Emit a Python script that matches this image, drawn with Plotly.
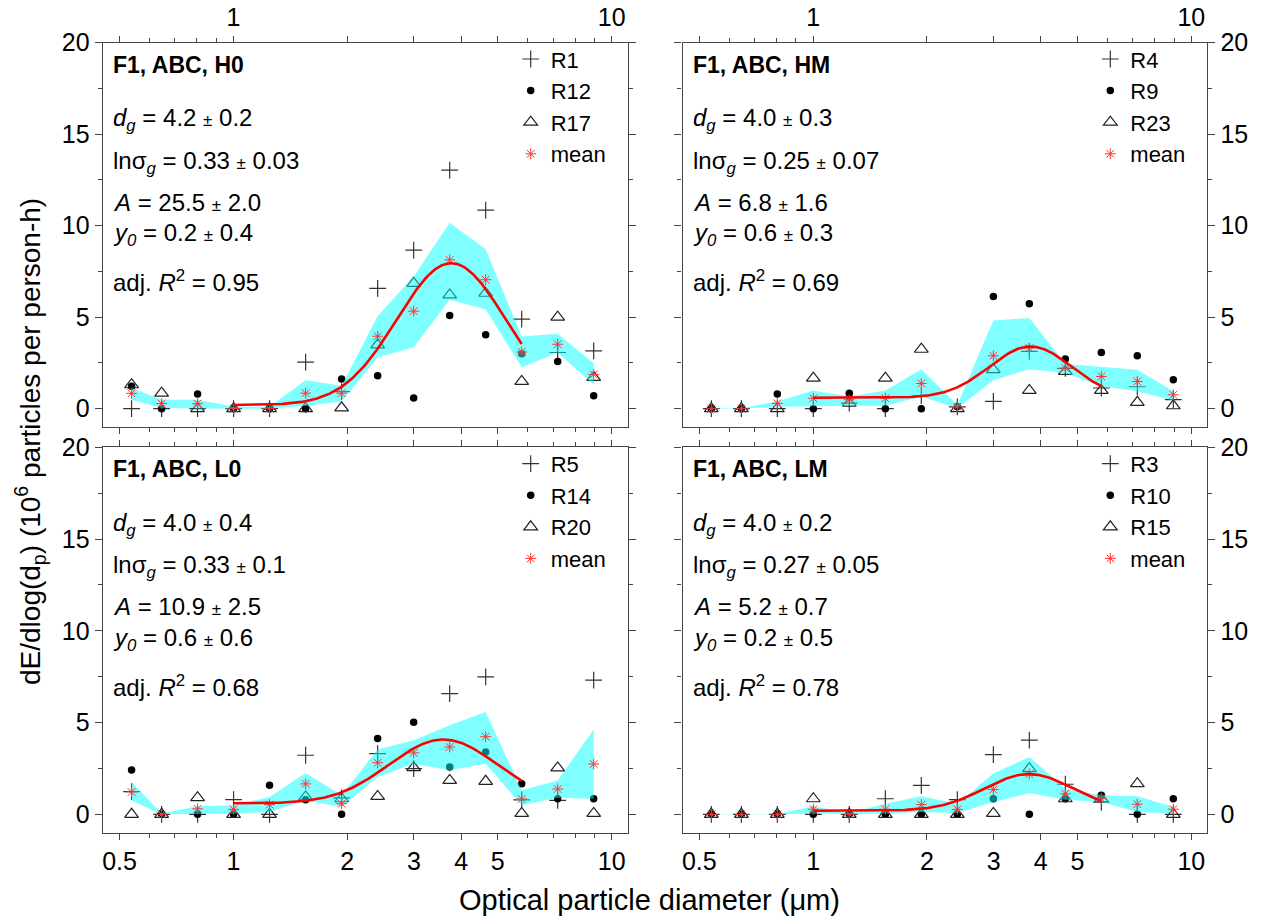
import numpy as np
import plotly.graph_objects as go

# OPC channel geometric midpoints (um)
diam = [0.538, 0.646, 0.804, 1.001, 1.246, 1.552, 1.932, 2.406, 2.996, 3.730, 4.644, 5.782, 7.198, 8.962]

# ---- H0 ----
h0_r1 = [0, 0, 0, 0, 0, 2.55, 0.93, 6.58, 8.67, 13.04, 10.85, 4.89, 3.07, 3.16]
h0_r12 = [1.22, 0, 0.8, 0, 0, 0, 1.62, 1.8, 0.58, 5.09, 4.04, 3.0, 2.58, 0.71]
h0_r17 = [1.31, 0.85, 0, 0, 0, 0, 0.05, 3.49, 6.85, 6.22, 6.31, 1.49, 5.0, 1.71]
h0_mean = [0.84, 0.28, 0.27, 0, 0, 0.85, 0.85, 3.96, 5.33, 8.13, 7.05, 3.1, 3.52, 1.87]
h0_hi = [1.13, 0.49, 0.49, 0.1, 0.1, 1.55, 1.25, 5.07, 7.22, 10.16, 8.71, 3.95, 4.09, 2.49]
h0_lo = [0.49, 0.04, 0.04, 0, 0, 0.16, 0.4, 2.8, 3.36, 5.95, 5.44, 2.25, 3.07, 1.31]

# ---- HM ----
hm_r4 = [0, 0, 0, 0, 0.3, 0, 0.7, 0.1, 0.4, 3.13, 2.2, 1.13, 1.2, 0.5]
hm_r9 = [0, 0, 0.8, 0, 0.85, 0, 0, 0.1, 6.13, 5.73, 2.71, 3.07, 2.89, 1.58]
hm_r23 = [0, 0, 0, 1.67, 0.3, 1.67, 3.25, 0, 2.13, 1.0, 2.04, 1.0, 0.35, 0.16]
hm_mean = [0, 0, 0.29, 0.57, 0.49, 0.57, 1.38, 0.1, 2.89, 3.31, 2.22, 1.76, 1.49, 0.76]
hm_hi = [0.03, 0.03, 0.4, 1.0, 0.67, 1.0, 2.16, 0.22, 4.82, 4.95, 2.44, 2.27, 2.13, 0.95]
hm_lo = [0, 0, 0.1, 0.13, 0.16, 0.16, 0.67, 0.02, 1.55, 2.16, 1.95, 1.22, 0.95, 0.45]

# ---- L0 ----
l0_r5 = [1.24, 0, 0, 0.8, 0, 3.22, 0.9, 3.31, 2.49, 6.58, 7.49, 0.79, 0.76, 7.31]
l0_r14 = [2.42, 0, 0, 0, 1.58, 0.8, 0, 4.13, 5.02, 2.58, 3.4, 1.67, 0.85, 0.85]
l0_r20 = [0, 0, 0.91, 0, 0, 0.95, 0.85, 0.98, 2.55, 1.85, 1.8, 0.05, 2.53, 0.05]
l0_mean = [1.22, 0, 0.3, 0.27, 0.53, 1.66, 0.58, 2.81, 3.35, 3.67, 4.23, 0.84, 1.38, 2.74]
l0_hi = [1.76, 0.04, 0.44, 0.49, 0.95, 2.25, 1.04, 3.53, 4.04, 4.85, 5.58, 1.31, 1.85, 4.62]
l0_lo = [0.76, 0, 0.04, 0.04, 0.13, 0.76, 0.4, 2.04, 2.76, 2.4, 2.76, 0.49, 0.91, 0.85]

# ---- LM ----
lm_r3 = [0, 0, 0, 0, 0, 0.85, 1.58, 0.8, 3.25, 4.04, 1.64, 0.66, 0, 0]
lm_r10 = [0, 0, 0, 0, 0, 0, 0, 0, 0.85, 0, 0.85, 1.04, 0, 0.85]
lm_r15 = [0, 0, 0, 0.85, 0, 0, 0, 0, 0.05, 2.49, 0.85, 0.85, 1.67, 0]
lm_mean = [0, 0, 0, 0.28, 0, 0.28, 0.53, 0.27, 1.35, 2.2, 1.12, 0.85, 0.55, 0.28]
lm_hi = [0.02, 0.02, 0.02, 0.44, 0.07, 0.58, 0.98, 0.58, 2.22, 3.13, 1.4, 1.04, 0.98, 0.4]
lm_lo = [0, 0, 0, 0.04, 0, 0.04, 0.13, 0.07, 0.67, 1.16, 0.8, 0.67, 0.13, 0.04]

panel_titles = ["F1, ABC, H0", "F1, ABC, HM", "F1, ABC, L0", "F1, ABC, LM"]
run_names = [["R1", "R12", "R17"], ["R4", "R9", "R23"], ["R5", "R14", "R20"], ["R3", "R10", "R15"]]

# log-normal fit parameters (value, uncertainty) as printed
dg = ["4.2", "4.0", "4.0", "4.0"]
dg_err = ["0.2", "0.3", "0.4", "0.2"]
lnsg = ["0.33", "0.25", "0.33", "0.27"]
lnsg_err = ["0.03", "0.07", "0.1", "0.05"]
amp = ["25.5", "6.8", "10.9", "5.2"]
amp_err = ["2.0", "1.6", "2.5", "0.7"]
y0 = ["0.2", "0.6", "0.6", "0.2"]
y0_err = ["0.4", "0.3", "0.6", "0.5"]
adj_r2 = ["0.95", "0.69", "0.68", "0.78"]

x_tickvals = [0.5, 1, 2, 3, 4, 5, 10]
x_ticktext_bottom = ["0.5", "1", "2", "3", "4", "5", "10"]
x_ticktext_top = ["", "1", "", "", "", "", "10"]
x_minor = [0.6, 0.7, 0.8, 0.9, 6, 7, 8, 9]
y_tickvals = [0, 5, 10, 15, 20]
y_minor = [2.5, 7.5, 12.5, 17.5]

series = [
    (h0_r1, h0_r12, h0_r17, h0_mean, h0_hi, h0_lo),
    (hm_r4, hm_r9, hm_r23, hm_mean, hm_hi, hm_lo),
    (l0_r5, l0_r14, l0_r20, l0_mean, l0_hi, l0_lo),
    (lm_r3, lm_r10, lm_r15, lm_mean, lm_hi, lm_lo),
]

W, H = 1261, 923
FONT = "Liberation Sans, Arial, sans-serif"
AX = "#444444"

# panel frames in pixels: (left, right, top, bottom)
frames = [
    (102.7, 627.7, 42.7, 427.0),
    (682.5, 1207.3, 42.7, 427.0),
    (102.7, 627.7, 447.3, 832.7),
    (682.5, 1207.3, 447.3, 832.7),
]


def lognormal(x, xc, w, a, base):
    return base + a / (np.sqrt(2 * np.pi) * w * x) * np.exp(-np.log(x / xc) ** 2 / (2 * w ** 2))


fig = go.Figure()
pm = "<span style='font-size:17px'>\u00b1</span>"

for k in range(4):
    n = k + 1
    xa = "x" if n == 1 else f"x{n}"
    ya = "y" if n == 1 else f"y{n}"
    lg = "legend" if n == 1 else f"legend{n}"
    r_a, r_b, r_c, mean, hi, lo = series[k]
    names = run_names[k]

    fig.add_trace(go.Scatter(
        x=diam, y=r_a, mode="markers", name=names[0], xaxis=xa, yaxis=ya, legend=lg,
        marker=dict(symbol="cross-thin-open", size=12, color="#333333",
                    line=dict(color="#333333", width=1.2))))
    fig.add_trace(go.Scatter(
        x=diam, y=r_b, mode="markers", name=names[1], xaxis=xa, yaxis=ya, legend=lg,
        marker=dict(symbol="circle", size=7.5, color="black")))
    fig.add_trace(go.Scatter(
        x=diam, y=r_c, mode="markers", name=names[2], xaxis=xa, yaxis=ya, legend=lg,
        marker=dict(symbol="triangle-up-open", size=12, color="#222222",
                    line=dict(color="#222222", width=1.2))))
    # uncertainty band around the mean
    fig.add_trace(go.Scatter(
        x=diam + diam[::-1], y=hi + lo[::-1], mode="lines", fill="toself",
        fillcolor="rgba(0,255,255,0.5)", line=dict(width=0), hoverinfo="skip",
        showlegend=False, xaxis=xa, yaxis=ya))
    fig.add_trace(go.Scatter(
        x=diam, y=mean, mode="markers", name="mean", xaxis=xa, yaxis=ya, legend=lg,
        marker=dict(symbol="asterisk-open", size=9, color="#ff3535",
                    line=dict(color="#ff3535", width=1.0))))
    # log-normal fit
    xf = np.logspace(np.log10(diam[3]), np.log10(diam[11]), 200)
    yf = lognormal(xf, float(dg[k]), float(lnsg[k]), float(amp[k]), float(y0[k]))
    fig.add_trace(go.Scatter(
        x=xf, y=yf, mode="lines", line=dict(color="red", width=2.6),
        showlegend=False, hoverinfo="skip", xaxis=xa, yaxis=ya))

    left, right, top, bottom = frames[k]
    is_top = n in (1, 2)
    is_right = n in (2, 4)
    xkey = "xaxis" if n == 1 else f"xaxis{n}"
    ykey = "yaxis" if n == 1 else f"yaxis{n}"
    fig.update_layout({
        xkey: dict(
            type="log", range=[-0.3455, 1.0423], domain=[left / W, right / W], anchor=ya,
            side="top" if is_top else "bottom", automargin=False,
            tickmode="array", tickvals=x_tickvals,
            ticktext=x_ticktext_top if is_top else x_ticktext_bottom,
            ticks="outside", ticklen=6, tickwidth=1.2, tickcolor=AX,
            minor=dict(tickmode="array", tickvals=x_minor, ticks="outside", ticklen=4,
                       tickwidth=1.2, tickcolor=AX, showgrid=False),
            showline=True, linecolor=AX, linewidth=1.3, mirror="allticks",
            showgrid=False, zeroline=False,
            tickfont=dict(family=FONT, size=25, color="black")),
        ykey: dict(
            range=[-1, 20], domain=[1 - bottom / H, 1 - top / H], anchor=xa,
            side="right" if is_right else "left", automargin=False,
            tickmode="array", tickvals=y_tickvals,
            ticks="outside", ticklen=7, tickwidth=1.2, tickcolor=AX,
            minor=dict(tickmode="array", tickvals=y_minor, ticks="outside", ticklen=4,
                       tickwidth=1.2, tickcolor=AX, showgrid=False),
            showline=True, linecolor=AX, linewidth=1.3, mirror="allticks",
            showgrid=False, zeroline=False,
            tickfont=dict(family=FONT, size=25, color="black")),
    })

    ph = bottom - top
    # legend block in the upper-right corner of the panel
    fig.update_layout({lg: dict(
        x=(right - 95 - 22) / W, y=1 - (top - 4.5) / H, xanchor="left", yanchor="top",
        bgcolor="rgba(0,0,0,0)", borderwidth=0, tracegroupgap=0,
        font=dict(family=FONT, size=22, color="black"))})

    xd = f"{xa} domain"
    yd = f"{ya} domain"
    lines = [
        (f"<b>{panel_titles[k]}</b>", 22, 23),
        (f"<i>d<sub>g</sub></i> = {dg[k]} {pm} {dg_err[k]}", 77, 24),
        (f"ln\u03c3<sub><i>g</i></sub> = {lnsg[k]} {pm} {lnsg_err[k]}", 119.3, 24),
        (f"<i>A</i> = {amp[k]} {pm} {amp_err[k]}", 159.3, 24),
        (f"<i>y<sub>0</sub></i> = {y0[k]} {pm} {y0_err[k]}", 191.8, 24),
        (f"adj. <i>R</i><sup>2</sup> = {adj_r2[k]}", 238.3, 24),
    ]
    for txt, off, fs in lines:
        fig.add_annotation(
            text=txt, xref=xd, yref=yd, x=8 / (right - left), y=1 - off / ph,
            xanchor="left", yanchor="middle", showarrow=False,
            font=dict(family=FONT, size=fs, color="black"))

fig.add_annotation(
    text="Optical particle diameter (\u03bcm)", xref="paper", yref="paper",
    x=650 / W, y=1 - 900 / H, xanchor="center", yanchor="middle", showarrow=False,
    font=dict(family=FONT, size=29, color="black"))
fig.add_annotation(
    text="dE/dlog(d<sub>p</sub>) (10<sup>6</sup> particles per person-h)",
    xref="paper", yref="paper", x=30 / W, y=1 - 442 / H, xanchor="center", yanchor="middle",
    textangle=-90, showarrow=False, font=dict(family=FONT, size=28, color="black"))

fig.update_layout(
    width=W, height=H, margin=dict(l=0, r=0, t=0, b=0, autoexpand=False),
    paper_bgcolor="white", plot_bgcolor="white", showlegend=True,
    font=dict(family=FONT, color="black"),
)

fig.write_html("out.html")
